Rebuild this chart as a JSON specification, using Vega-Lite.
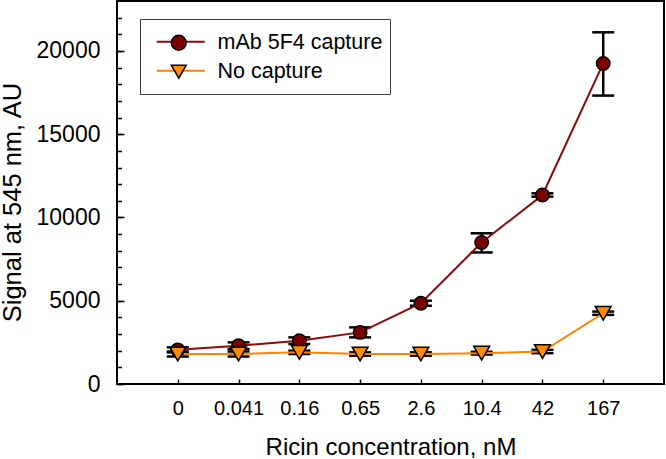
{
  "$schema": "https://vega.github.io/schema/vega-lite/v6.json",
  "width": 547,
  "height": 383,
  "autosize": {"type": "none"},
  "padding": {"left": 117, "top": 1, "right": 2, "bottom": 75},
  "background": "white",
  "config": {
    "view": {"stroke": "black", "strokeWidth": 2},
    "font": "Liberation Sans",
    "axis": {
      "labelFont": "Liberation Sans",
      "titleFont": "Liberation Sans",
      "labelColor": "black",
      "titleColor": "black",
      "tickColor": "black",
      "tickWidth": 1.5,
      "titleFontWeight": "normal",
      "grid": false,
      "domain": false
    },
    "legend": {"labelFont": "Liberation Sans", "labelColor": "black", "labelLimit": 400}
  },
  "data": {
    "values": [
      {"conc": "0", "series": "mAb 5F4 capture", "signal": 2050, "lo": 1900, "hi": 2200},
      {"conc": "0.041", "series": "mAb 5F4 capture", "signal": 2300, "lo": 2100, "hi": 2500},
      {"conc": "0.16", "series": "mAb 5F4 capture", "signal": 2600, "lo": 2400, "hi": 2800},
      {"conc": "0.65", "series": "mAb 5F4 capture", "signal": 3100, "lo": 2800, "hi": 3400},
      {"conc": "2.6", "series": "mAb 5F4 capture", "signal": 4850, "lo": 4700, "hi": 5000},
      {"conc": "10.4", "series": "mAb 5F4 capture", "signal": 8500, "lo": 7900, "hi": 9050},
      {"conc": "42", "series": "mAb 5F4 capture", "signal": 11350, "lo": 11250, "hi": 11450},
      {"conc": "167", "series": "mAb 5F4 capture", "signal": 19250, "lo": 17320, "hi": 21120},
      {"conc": "0", "series": "No capture", "signal": 1800, "lo": 1650, "hi": 1950},
      {"conc": "0.041", "series": "No capture", "signal": 1800, "lo": 1650, "hi": 1950},
      {"conc": "0.16", "series": "No capture", "signal": 1900, "lo": 1800, "hi": 2000},
      {"conc": "0.65", "series": "No capture", "signal": 1800, "lo": 1700, "hi": 1900},
      {"conc": "2.6", "series": "No capture", "signal": 1800, "lo": 1700, "hi": 1900},
      {"conc": "10.4", "series": "No capture", "signal": 1850, "lo": 1770, "hi": 1930},
      {"conc": "42", "series": "No capture", "signal": 1950, "lo": 1850, "hi": 2050},
      {"conc": "167", "series": "No capture", "signal": 4250, "lo": 4150, "hi": 4350}
    ]
  },
  "encoding": {
    "x": {
      "field": "conc",
      "type": "ordinal",
      "sort": null,
      "scale": {"type": "point", "padding": 1, "domain": ["0", "0.041", "0.16", "0.65", "2.6", "10.4", "42", "167"]},
      "axis": {
        "title": "Ricin concentration, nM",
        "labelAngle": 0,
        "tickSize": -5,
        "labelPadding": 19,
        "labelFontSize": 20,
        "titleFontSize": 24,
        "titlePadding": 17
      }
    }
  },
  "layer": [
    {
      "mark": {
        "type": "errorbar",
        "ticks": {"color": "black", "opacity": 1},
        "rule": {"color": "black", "opacity": 1},
        "size": 22,
        "thickness": 2.5,
        "color": "black",
        "opacity": 1
      },
      "encoding": {
        "y": {"field": "lo", "type": "quantitative", "scale": {"domain": [0, 23000], "nice": false}, "axis": null},
        "y2": {"field": "hi"}
      }
    },
    {
      "mark": {"type": "line", "strokeWidth": 2},
      "encoding": {
        "y": {
          "field": "signal",
          "type": "quantitative",
          "scale": {"domain": [0, 23000], "nice": false},
          "axis": {
            "orient": "left",
            "values": [0, 5000, 10000, 15000, 20000],
            "format": "d",
            "tickSize": -7,
            "labelPadding": 24,
            "labelFontSize": 23,
            "title": "Signal at 545 nm, AU",
            "titleFontSize": 25.5,
            "titleX": -92,
            "titleY": 201
          }
        },
        "stroke": {
          "field": "series",
          "type": "nominal",
          "scale": {"domain": ["mAb 5F4 capture", "No capture"], "range": ["#8B0A0A", "#FF8200"]},
          "legend": {
            "orient": "none",
            "legendX": 23,
            "legendY": 18,
            "title": null,
            "padding": 12,
            "strokeColor": "#404040",
            "symbolType": "M-4,0H4",
            "symbolSize": 144,
            "symbolStrokeWidth": 2,
            "symbolOffset": 18,
            "labelOffset": 186,
            "labelFontSize": 21.5,
            "labelExpr": "' '",
            "rowPadding": 6
          }
        }
      }
    },
    {
      "mark": {"type": "point", "filled": true, "stroke": "black", "strokeWidth": 1.5, "opacity": 1},
      "encoding": {
        "y": {
          "field": "signal",
          "type": "quantitative",
          "scale": {"domain": [0, 23000], "nice": false},
          "axis": {
            "orient": "left",
            "values": [0, 1000, 2000, 3000, 4000, 5000, 6000, 7000, 8000, 9000, 10000, 11000, 12000, 13000, 14000, 15000, 16000, 17000, 18000, 19000, 20000, 21000, 22000],
            "labels": false,
            "tickSize": -4.5,
            "title": null
          }
        },
        "fill": {
          "field": "series",
          "type": "nominal",
          "scale": {"domain": ["mAb 5F4 capture", "No capture"], "range": ["#7A0000", "#FF8C00"]},
          "legend": {
            "orient": "none",
            "legendX": 51,
            "legendY": 31,
            "title": null,
            "padding": 0,
            "symbolSize": 220,
            "symbolStrokeColor": "black",
            "symbolStrokeWidth": 1.5,
            "symbolOffset": 0,
            "labelOffset": 28,
            "labelFontSize": 21.5,
            "rowPadding": 6
          }
        },
        "shape": {
          "field": "series",
          "type": "nominal",
          "scale": {"domain": ["mAb 5F4 capture", "No capture"], "range": ["circle", "triangle-down"]},
          "legend": {"orient": "none", "legendX": 51, "legendY": 31, "title": null}
        },
        "size": {
          "field": "series",
          "type": "nominal",
          "scale": {"domain": ["mAb 5F4 capture", "No capture"], "range": [180, 250]},
          "legend": null
        }
      }
    }
  ],
  "resolve": {
    "axis": {"y": "independent"},
    "legend": {"stroke": "independent", "fill": "independent", "shape": "independent"}
  }
}
